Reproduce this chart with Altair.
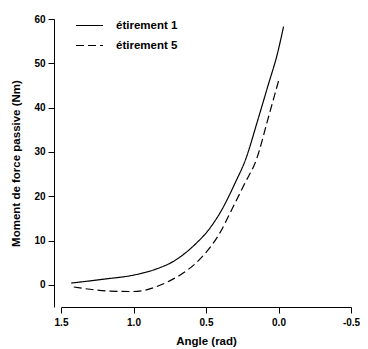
import altair as alt
import pandas as pd

angle_1 = [1.43, 1.2, 1.0, 0.85, 0.73, 0.65, 0.57, 0.48, 0.39, 0.299, 0.227, 0.141, 0.073, 0.005, -0.035]
moment_1 = [0.4, 1.3, 2.2, 3.5, 5.2, 7.0, 9.3, 12.5, 17.0, 23.0, 28.3, 37.4, 44.9, 52.5, 58.3]

angle_5 = [1.43, 1.3, 1.18, 1.0, 0.92, 0.84, 0.75, 0.66, 0.57, 0.503, 0.412, 0.322, 0.231, 0.152, 0.073, 0.0]
moment_5 = [-0.4, -1.0, -1.4, -1.5, -1.2, -0.4, 0.9, 2.6, 4.9, 7.2, 11.3, 17.0, 23.0, 28.3, 37.4, 46.0]

series = ["étirement 1", "étirement 5"]
x_ticks = [1.5, 1.0, 0.5, 0.0, -0.5]
y_ticks = [0, 10, 20, 30, 40, 50, 60]

df = pd.concat([
    pd.DataFrame({"angle": angle_1, "moment": moment_1, "serie": series[0]}),
    pd.DataFrame({"angle": angle_5, "moment": moment_5, "serie": series[1]}),
])

font = "Liberation Sans"

chart = alt.Chart(df).mark_line(
    color="black", strokeWidth=1.2, interpolate="monotone"
).encode(
    x=alt.X("angle:Q",
            scale=alt.Scale(domain=[-0.5, 1.5], reverse=True, nice=False, zero=False),
            axis=alt.Axis(title="Angle (rad)", values=x_ticks, labelFlush=False,
                          labelExpr="datum.value < 0 ? '-' + format(-datum.value, '.1f') : format(datum.value, '.1f')",
                          grid=False, tickSize=6, labelPadding=4, titlePadding=8)),
    y=alt.Y("moment:Q",
            scale=alt.Scale(domain=[-5, 60], nice=False, zero=False),
            axis=alt.Axis(title="Moment de force passive (Nm)", values=y_ticks, labelFlush=False,
                          grid=False, tickSize=6, labelPadding=3, titlePadding=12, offset=7)),
    strokeDash=alt.StrokeDash("serie:N",
                              scale=alt.Scale(domain=series, range=[[1, 0], [8, 4]]),
                              legend=alt.Legend(title=None, orient="none", legendX=14, legendY=-8,
                                                symbolType="stroke", symbolSize=729,
                                                symbolStrokeWidth=1.2, symbolStrokeColor="black",
                                                labelFont=font, labelFontSize=11.5,
                                                labelFontWeight="bold", labelOffset=12,
                                                rowPadding=-3, padding=0)),
    order="angle:Q",
).properties(
    width=290, height=288,
    autosize=alt.AutoSizeParams(type="none"),
    padding={"left": 53, "top": 11, "right": 9, "bottom": 40},
).configure_view(
    stroke=None
).configure_axis(
    domainColor="black", tickColor="black", labelColor="black", titleColor="black",
    labelFont=font, titleFont=font, labelFontSize=10, titleFontSize=11.5,
    labelFontWeight="bold", titleFontWeight="bold", domainWidth=1, tickWidth=1,
)

chart.save("out.html", embed_options={"renderer": "svg", "actions": False})
